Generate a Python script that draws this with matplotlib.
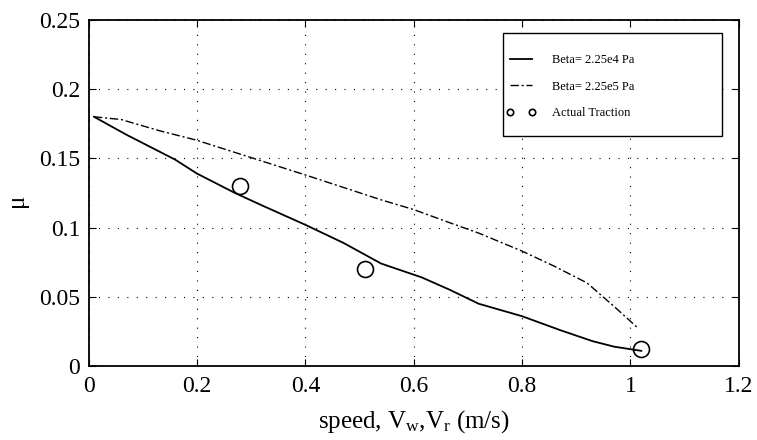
import matplotlib.pyplot as plt
from matplotlib.patches import Rectangle

plt.rcParams['font.family'] = ['Liberation Serif', 'DejaVu Serif']
plt.rcParams['mathtext.fontset'] = 'custom'
plt.rcParams['mathtext.rm'] = 'Liberation Serif'
plt.rcParams['mathtext.it'] = 'Liberation Serif'

# Beta = 2.25e4 Pa (solid)
x_lo = [0.01, 0.07, 0.16, 0.20, 0.27, 0.32, 0.40, 0.47, 0.54, 0.615, 0.667,
        0.72, 0.80, 0.87, 0.93, 0.97, 1.02]
mu_lo = [0.180, 0.167, 0.149, 0.139, 0.125, 0.116, 0.102, 0.089, 0.074, 0.064,
         0.055, 0.045, 0.036, 0.026, 0.018, 0.014, 0.011]

# Beta = 2.25e5 Pa (dash-dot)
x_hi = [0.01, 0.06, 0.13, 0.20, 0.28, 0.40, 0.54, 0.60, 0.67, 0.72, 0.80,
        0.86, 0.92, 0.97, 1.015]
mu_hi = [0.180, 0.178, 0.170, 0.163, 0.153, 0.138, 0.120, 0.113, 0.103, 0.096,
         0.083, 0.072, 0.060, 0.043, 0.027]

# measured traction
x_act = [0.28, 0.51, 1.02]
mu_act = [0.13, 0.07, 0.012]

fig = plt.figure(figsize=(7.57, 4.40), dpi=100)
ax = fig.add_axes([0.117, 0.168, 0.859, 0.787])

ax.plot(x_lo, mu_lo, color='black', lw=1.3, label='Beta= 2.25e4 Pa')
ax.plot(x_hi, mu_hi, color='black', lw=1.0, linestyle=(0, (6, 2, 1.5, 2)),
        label='Beta= 2.25e5 Pa')
ax.plot(x_act, mu_act, 'o', color='black', mfc='none', ms=11.5, mew=1.2,
        label='Actual Traction')

ax.set_xlim(0, 1.2)
ax.set_ylim(0, 0.25)
ax.set_xticks([0, 0.2, 0.4, 0.6, 0.8, 1, 1.2])
ax.set_xticklabels(['0', '0.2', '0.4', '0.6', '0.8', '1', '1.2'])
ax.set_yticks([0, 0.05, 0.1, 0.15, 0.2, 0.25])
ax.set_yticklabels(['0', '0.05', '0.1', '0.15', '0.2', '0.25'])
ax.tick_params(direction='in', labelsize=17, length=5, top=True, right=True)
ax.tick_params(axis='x', pad=7)
ax.tick_params(axis='y', pad=6)
ax.grid(True, linestyle=(0, (1, 7.5)), color='black', lw=0.8)
for s in ax.spines.values():
    s.set_linewidth(1.3)

ax.set_xlabel(r'speed, V$_\mathrm{w}$,V$_\mathrm{r}$ (m/s)', fontsize=18,
              labelpad=8)
ax.set_ylabel('μ', fontsize=18)
ax.yaxis.set_label_coords(-0.093, 0.48)

# legend frame drawn separately (wide box, entries to the left)
ax.add_patch(Rectangle((0.637, 0.663), 0.337, 0.300, transform=ax.transAxes,
                       fill=True, facecolor='white', edgecolor='black',
                       lw=1.0, zorder=4))
leg = ax.legend(loc='upper left', bbox_to_anchor=(0.643, 0.900), fontsize=9,
                numpoints=2, markerscale=0.4, handlelength=2.3,
                handletextpad=1.3, frameon=False, borderpad=0,
                borderaxespad=0, labelspacing=1.15)
leg.set_zorder(5)

fig.savefig('out.png', dpi=100)
